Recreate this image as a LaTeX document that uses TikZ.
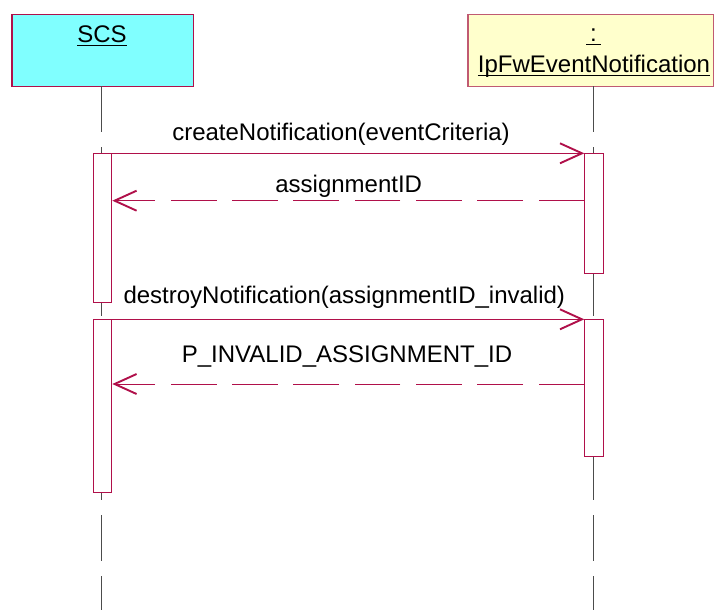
\documentclass[tikz,border=0pt]{standalone}
\usepackage{fontspec}
\setmainfont{Liberation Sans}
\usetikzlibrary{arrows.meta}
\definecolor{scsfill}{HTML}{80FFFF}
\definecolor{objfill}{HTML}{FFFFCC}
\definecolor{edge}{HTML}{B0104A}
\definecolor{edgelight}{HTML}{C05A72}
\newcommand\ulbox[1]{\setbox0\hbox{#1}\rlap{\rule[-3.8pt]{\wd0}{1.3pt}}\box0}
\begin{document}
\begin{tikzpicture}[x=1pt,y=-1pt,font=\fontsize{24}{28}\selectfont,
  header/.style={line width=1.2pt,inner sep=0pt,anchor=north west,minimum height=72pt},
  lifeline/.style={draw=black!70,line width=1pt,dash pattern=on 45.7pt off 15.6pt},
  actbox/.style={draw=edge,fill=white,line width=1.1pt,inner sep=0pt,anchor=north west},
  msg/.style={draw=edge,line width=1pt,-{Straight Barb[length=22pt,width=20pt,line width=1.9pt]}},
  ret/.style={msg,dash pattern=on 45.7pt off 15.6pt},
  lbl/.style={inner sep=0pt,anchor=base}]
\useasboundingbox (0,0) rectangle (714,610);
% headers
\node[header,draw=edge,fill=scsfill,minimum width=181.4pt] (scs) at (11.3,14) {};
\node[header,draw=edgelight,fill=objfill,minimum width=246pt] (obj) at (467.3,14) {};
\node[lbl] (scst) at (102,42.7) {\ulbox{SCS}};
\node[lbl] (objc) at (593.5,41.7) {\ulbox{\,:\,}};
\node[lbl] (objt) at (594,72.7) {\ulbox{IpFwEventNotification}};
% lifelines
\coordinate (scstop) at (101.5,86);
\coordinate (scsend) at (101.5,610);
\coordinate (objtop) at (593.7,86);
\coordinate (objend) at (593.7,610);
\draw[lifeline] (scstop) -- (scsend);
\draw[lifeline] (objtop) -- (objend);
% activation boxes
\node[actbox,minimum width=17.4pt,minimum height=148.4pt] (a1) at (93.3,153.3) {};
\node[actbox,minimum width=17.4pt,minimum height=173pt] (a2) at (93.3,319.3) {};
\node[actbox,minimum width=19pt,minimum height=119.4pt] (b1) at (584.3,153.3) {};
\node[actbox,minimum width=19pt,minimum height=136.4pt] (b2) at (584.3,319.3) {};
% messages
\draw[msg] (a1.north east) -- (b1.north west);
\coordinate (r1s) at (584.3,200.7);
\coordinate (r1e) at (112.3,200.7);
\draw[ret] (r1s) -- (r1e);
\draw[msg] (a2.north east) -- (b2.north west);
\coordinate (r2s) at (584.3,384);
\coordinate (r2e) at (112.3,384);
\draw[ret] (r2s) -- (r2e);
% labels
\node[lbl] (l1) at (341,140.5) {createNotification(eventCriteria)};
\node[lbl] (l2) at (348.7,192) {assignmentID};
\node[lbl,anchor=base west] (l3) at (123.3,303) {destroyNotification(assignmentID\_invalid)};
\node[lbl] (l4) at (347,362.5) {P\_INVALID\_ASSIGNMENT\_ID};
\end{tikzpicture}
\end{document}
